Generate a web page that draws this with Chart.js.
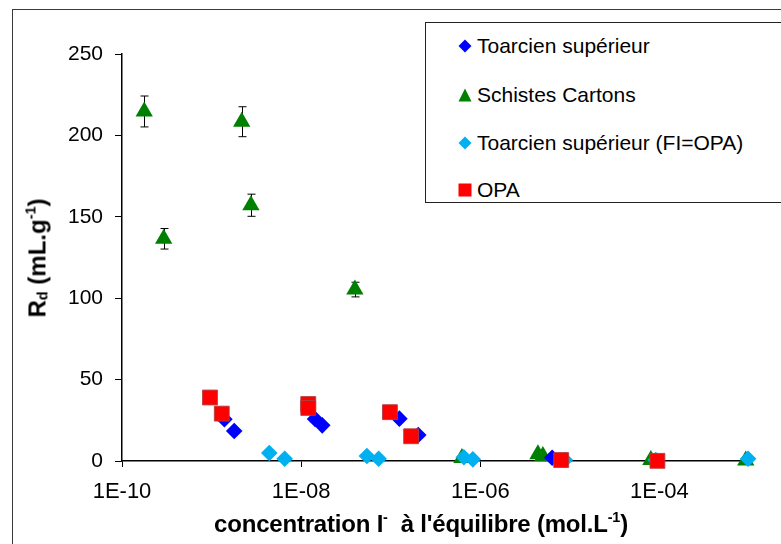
<!DOCTYPE html>
<html>
<head>
<meta charset="utf-8">
<script src="https://cdn.jsdelivr.net/npm/chart.js@4"></script>
<style>
  html, body { margin: 0; padding: 0; background: #fff; }
  body { width: 781px; height: 544px; overflow: hidden; position: relative; font-family: 'Liberation Sans', Arial, sans-serif; }
  #frame { position: absolute; left: 12px; top: 9px; width: 900px; height: 700px; border: 1px solid #3a3a3a; }
  #wrap { position: absolute; left: 0; top: 0; width: 781px; height: 544px; }
  #legend { position: absolute; left: 425px; top: 22px; width: 420px; height: 179px; border: 1px solid #222; background: #fff; }
  .item { position: absolute; left: 0; height: 26px; font-size: 21px; line-height: 26px; color: #000; white-space: nowrap; }
  .item svg { position: absolute; left: 32px; top: 6px; }
  .item span { position: absolute; left: 51px; top: 0; }
  #xtitle { position: absolute; left: 0; width: 842px; top: 509px; text-align: center; font-weight: bold; font-size: 24px; color: #000; white-space: nowrap; letter-spacing: -0.2px; }
  #ytitle { position: absolute; left: 37px; top: 258px; transform: translate(-50%, -50%) rotate(-90deg); font-weight: bold; font-size: 24px; color: #000; white-space: nowrap; }
  sup, sub { font-size: 0.6em; }
  sup { vertical-align: 0.7em; }
  sub { vertical-align: -0.15em; }
</style>
</head>
<body>
<div id="frame"></div>
<div id="wrap"><canvas id="chart" width="781" height="544"></canvas></div>
<div id="legend">
  <div class="item" style="top:10px"><svg width="14" height="14"><polygon points="7,0.5 13.5,7 7,13.5 0.5,7" fill="#0000FF"/></svg><span>Toarcien supérieur</span></div>
  <div class="item" style="top:59px"><svg width="14" height="14"><polygon points="7,0.5 13.5,13.5 0.5,13.5" fill="#008000"/></svg><span>Schistes Cartons</span></div>
  <div class="item" style="top:107px"><svg width="14" height="14"><polygon points="7,0.5 13.5,7 7,13.5 0.5,7" fill="#00B0F0"/></svg><span>Toarcien supérieur (FI=OPA)</span></div>
  <div class="item" style="top:154px"><svg width="14" height="14"><rect x="0.5" y="0.5" width="13" height="13" fill="#FF0000"/></svg><span>OPA</span></div>
</div>
<div id="ytitle">R<sub>d</sub> (mL.g<sup>-1</sup>)</div>
<div id="xtitle">concentration I<sup>-</sup>&nbsp; à l'équilibre (mol.L<sup>-1</sup>)</div>

<script>
// x axis ticks (log scale, labels every two decades)
const xTickValues = [1e-10, 1e-8, 1e-6, 1e-4];
const xTickLabels = ['1E-10', '1E-08', '1E-06', '1E-04'];

// Toarcien supérieur
const toarcienX = [1.39e-9, 1.79e-9, 1.43e-8, 1.72e-8, 1.25e-7, 2.03e-7, 6.34e-6];
const toarcienY = [25.6, 18.4, 25.8, 21.9, 26.0, 16.0, 2.0];

// Schistes Cartons (with error bars)
const schistesX = [1.77e-10, 2.92e-10, 2.17e-9, 2.75e-9, 3.98e-8, 6.24e-7, 4.40e-6, 5.00e-6, 8.02e-5, 9.2e-4];
const schistesY = [214.7, 136.5, 208.4, 157.1, 105.3, 1.8, 4.1, 3.1, 0.6, 0.3];
const schistesErr = [9.5, 6.3, 9.2, 6.8, 4.5, 0, 0, 0, 0, 0];

// Toarcien supérieur (FI=OPA)
const fiX = [4.41e-9, 6.55e-9, 5.42e-8, 7.33e-8, 6.56e-7, 8.26e-7, 8.79e-6, 9.1e-5, 9.77e-4];
const fiY = [4.9, 1.4, 3.1, 1.4, 2.3, 1.0, 0.6, 0.6, 1.4];

// OPA
const opaX = [9.6e-10, 1.30e-9, 1.20e-8, 1.20e-8, 9.8e-8, 1.69e-7, 8.0e-6, 9.5e-5];
const opaY = [39.0, 29.1, 35.0, 32.6, 30.0, 15.2, 0.6, 0.1];

const toPoints = (xs, ys) => xs.map((x, i) => ({ x: x, y: ys[i] }));

const errorBars = {
  id: 'errorBars',
  beforeDatasetsDraw(chart) {
    const { ctx, scales } = chart;
    ctx.save();
    ctx.strokeStyle = '#000';
    ctx.lineWidth = 1;
    schistesX.forEach((x, i) => {
      const e = schistesErr[i];
      if (!e) return;
      const px = Math.round(scales.x.getPixelForValue(x)) + 0.5;
      const top = scales.y.getPixelForValue(schistesY[i] + e);
      const bot = scales.y.getPixelForValue(schistesY[i] - e);
      ctx.beginPath();
      ctx.moveTo(px, top); ctx.lineTo(px, bot);
      ctx.moveTo(px - 4, top); ctx.lineTo(px + 4, top);
      ctx.moveTo(px - 4, bot); ctx.lineTo(px + 4, bot);
      ctx.stroke();
    });
    ctx.restore();
  }
};

Chart.defaults.font.family = "'Liberation Sans', Arial, sans-serif";
Chart.defaults.color = '#000';

new Chart(document.getElementById('chart'), {
  type: 'scatter',
  data: {
    datasets: [
      {
        label: 'OPA',
        data: toPoints(opaX, opaY),
        pointStyle: 'rect',
        pointRadius: 10.5,
        backgroundColor: '#FF0000',
        borderColor: 'rgba(180,60,60,0.9)',
        borderWidth: 1,
        order: 0,
        clip: false,
      },
      {
        label: 'Toarcien supérieur (FI=OPA)',
        data: toPoints(fiX, fiY),
        pointStyle: 'rectRot',
        pointRadius: 8.3,
        backgroundColor: '#00B0F0',
        borderColor: '#00B0F0',
        borderWidth: 0,
        order: 1,
        clip: false,
      },
      {
        label: 'Toarcien supérieur',
        data: toPoints(toarcienX, toarcienY),
        pointStyle: 'rectRot',
        pointRadius: 8.3,
        backgroundColor: '#0000FF',
        borderColor: '#0000FF',
        borderWidth: 0,
        order: 2,
        clip: false,
      },
      {
        label: 'Schistes Cartons',
        data: toPoints(schistesX, schistesY),
        pointStyle: 'triangle',
        pointRadius: 10,
        backgroundColor: '#008000',
        borderColor: '#008000',
        borderWidth: 0,
        order: 3,
        clip: false,
      },
    ],
  },
  options: {
    responsive: false,
    animation: false,
    events: [],
    layout: { padding: { left: 12, top: 54, right: 32, bottom: 0 } },
    plugins: {
      legend: { display: false },
      tooltip: { enabled: false },
    },
    scales: {
      x: {
        type: 'logarithmic',
        min: 1e-10,
        max: 1e-3,
        afterBuildTicks: (scale) => {
          scale.ticks = xTickValues.map((v) => ({ value: v }));
        },
        afterFit: (scale) => { scale.height = 83; },
        ticks: {
          autoSkip: false,
          maxRotation: 0,
          padding: 12,
          font: { size: 22 },
          callback: (value) => {
            const i = xTickValues.indexOf(value);
            return i >= 0 ? xTickLabels[i] : '';
          },
        },
        grid: { drawOnChartArea: false, drawTicks: true, tickLength: 6, color: '#000', lineWidth: 1 },
        border: { display: true, color: '#000', width: 1.5 },
      },
      y: {
        min: 0,
        max: 250,
        afterFit: (scale) => { scale.width = 110; },
        ticks: {
          stepSize: 50,
          padding: 12,
          font: { size: 21 },
        },
        grid: { drawOnChartArea: false, drawTicks: true, tickLength: 7, color: '#000', lineWidth: 1 },
        border: { display: true, color: '#000', width: 1.5 },
      },
    },
  },
  plugins: [errorBars],
});
</script>
</body>
</html>
